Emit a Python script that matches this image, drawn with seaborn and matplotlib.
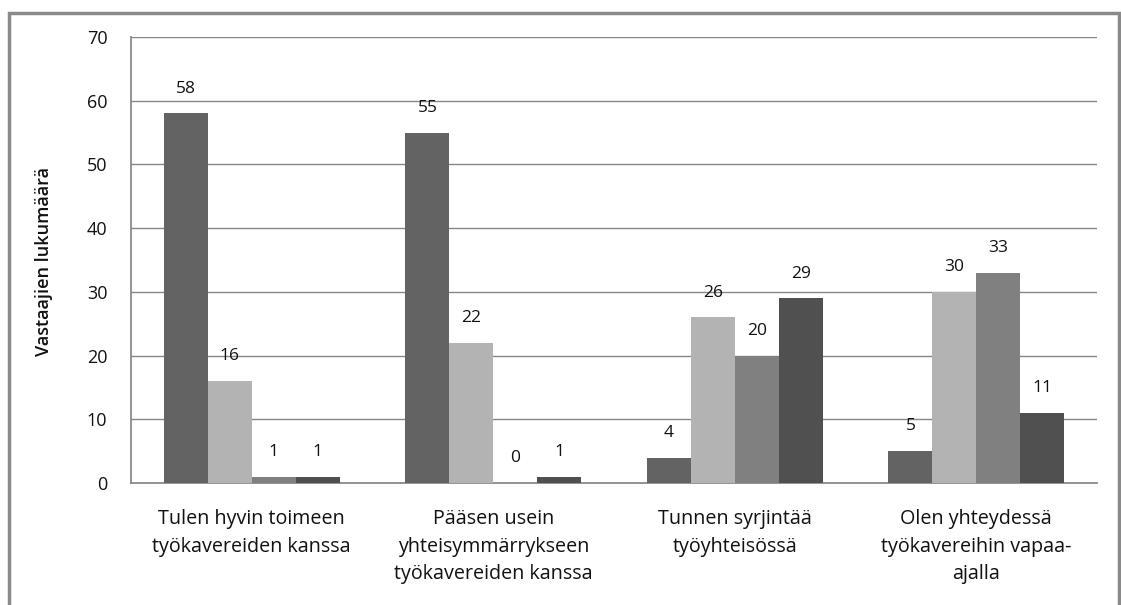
import matplotlib
matplotlib.use("Agg")
import matplotlib.pyplot as plt
import seaborn as sns
import pandas as pd
from matplotlib.patches import Rectangle

categories = [
    "Tulen hyvin toimeen\ntyökavereiden kanssa",
    "Pääsen usein\nyhteisymmärrykseen\ntyökavereiden kanssa",
    "Tunnen syrjintää\ntyöyhteisössä",
    "Olen yhteydessä\ntyökavereihin vapaa-\najalla",
]
series_names = ["S1", "S2", "S3", "S4"]
series_1 = [58, 55, 4, 5]
series_2 = [16, 22, 26, 30]
series_3 = [1, 0, 20, 33]
series_4 = [1, 1, 29, 11]
colors = ["#636363", "#b3b3b3", "#808080", "#505050"]

rows = []
for name, vals in zip(series_names, [series_1, series_2, series_3, series_4]):
    for cat, v in zip(categories, vals):
        rows.append({"cat": cat, "series": name, "value": v})
df = pd.DataFrame(rows)

sns.set_theme(style="white")
plt.rcParams["font.family"] = ["Open Sans", "DejaVu Sans"]

W, H = 1121, 605
fig = plt.figure(figsize=(W / 100, H / 100), dpi=100)
ax = fig.add_axes([131 / W, 1 - 483 / H, 966 / W, 446 / H])

sns.barplot(data=df, x="cat", y="value", hue="series", palette=colors,
            width=0.727, saturation=1, linewidth=0, ax=ax, legend=False,
            zorder=3)

for cont in ax.containers:
    ax.bar_label(cont, fmt="%g", padding=12, fontsize=12.5, color="#111111")

ax.set_ylim(0, 70)
ax.set_yticks(range(0, 71, 10))
ax.set_xlim(-0.5, 3.5)
ax.grid(axis="y", color="#868686", linewidth=1, zorder=0)
ax.set_axisbelow(True)
for s in ["top", "right"]:
    ax.spines[s].set_visible(False)
ax.spines["left"].set_color("#868686")
ax.spines["bottom"].set_color("#868686")
ax.tick_params(axis="y", labelsize=13, colors="#111111", length=0, pad=17)
ax.tick_params(axis="x", labelsize=14.2, colors="#111111", length=0, pad=19)
ax.set_xlabel("")
ax.set_ylabel("Vastaajien lukumäärä", fontsize=13, fontweight="semibold",
              color="#111111")
ax.yaxis.set_label_coords((53 - 131) / 966, (483 - 262) / 446)
for lbl in ax.get_xticklabels():
    lbl.set_linespacing(1.5)

# outer frame around the chart area
fig.patches.append(Rectangle((9 / W, -0.05), 1110 / W, 1 - 13 / H + 0.05,
                             transform=fig.transFigure, fill=False,
                             edgecolor="#8a8a8a", linewidth=2.5))

fig.savefig("out.png", dpi=100)
